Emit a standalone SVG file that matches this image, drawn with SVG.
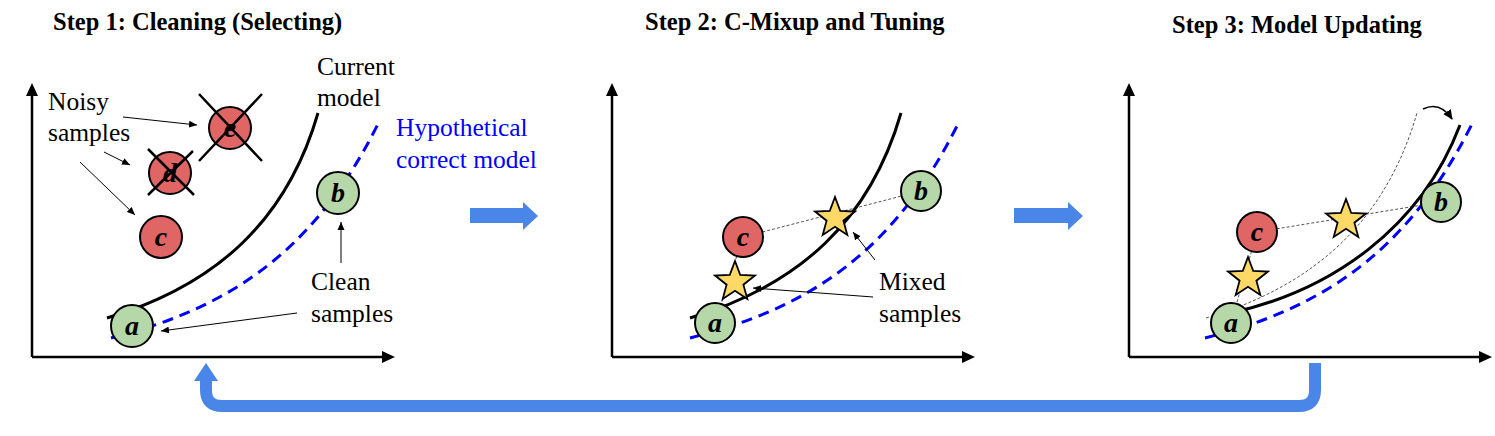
<svg xmlns="http://www.w3.org/2000/svg" width="1495" height="436" viewBox="0 0 1495 436">
<style>
text{font-family:"Liberation Serif","Times New Roman","DejaVu Serif",serif;fill:#000}
.title{font-size:24.5px;font-weight:bold}
.lbl{font-family:"Liberation Serif","DejaVu Serif",serif;font-size:25.5px;font-weight:normal;font-style:normal}
.blue{fill:#0000ff}
.let{font-size:28px;font-weight:bold;font-style:italic;text-anchor:middle}
.axis{stroke:#000;stroke-width:2.5;fill:none}
.red{fill:#e06666;stroke:#000;stroke-width:2}
.green{fill:#b6d7a8;stroke:#000;stroke-width:2}
.model{stroke:#000;stroke-width:3;fill:none}
.hyp{stroke:#0000ff;stroke-width:3;fill:none;stroke-dasharray:11 7}
.thin{stroke:#000;stroke-width:1;fill:none;marker-end:url(#ah)}
.dash{stroke:#555;stroke-width:1;fill:none;stroke-dasharray:3 2}
.xmark{stroke:#000;stroke-width:2.5}
.star{fill:#ffd966;stroke:#000;stroke-width:1.8;stroke-linejoin:miter}
.barrow{fill:#4a86e8}
</style>
<defs>
<marker id="ah" markerWidth="8" markerHeight="8" refX="8" refY="4" orient="auto" markerUnits="userSpaceOnUse"><path d="M0,0.5 L8,4 L0,7.5 z" fill="#000"/></marker>
<marker id="ah2" markerWidth="10" markerHeight="10" refX="9" refY="5" orient="auto" markerUnits="userSpaceOnUse"><path d="M0,0.5 L10,5 L0,9.5 z" fill="#000"/></marker>
<polygon id="starshape" points="0,-21 5.2,-7.2 20,-6.5 8.4,2.7 12.3,17 0,8.8 -12.3,17 -8.4,2.7 -20,-6.5 -5.2,-7.2"/>
</defs>

<!-- Titles -->
<g id="titles">
<text class="title" x="53" y="30">Step 1: Cleaning (Selecting)</text>
<text class="title" x="645" y="30">Step 2: C-Mixup and Tuning</text>
<text class="title" x="1172" y="33">Step 3: Model Updating</text>
</g>

<!-- Panel 1 -->
<g id="panel1-axes">
<path class="axis" d="M32,357 V95 M32,357 H383"/>
<polygon points="32,83 26,96 38,96"/>
<polygon points="395,357 382,351 382,363"/>
</g>
<g id="panel1-curves">
<path class="model" d="M107,318 C217,285 287,220 318,113"/>
<path class="hyp" d="M111,338 C220,310 310,260 378,124"/>
</g>
<g id="node-p1-e"><circle class="red" cx="230" cy="128" r="21"/><text class="let" x="230" y="137">e</text><path class="xmark" d="M199,94 L262,161 M262,94 L199,161"/></g>
<g id="node-p1-d"><circle class="red" cx="170" cy="173" r="21"/><text class="let" x="170" y="182">d</text><path class="xmark" d="M148,149 L194,195 M193,151 L148,195"/></g>
<g id="node-p1-c"><circle class="red" cx="161" cy="237" r="21"/><text class="let" x="161" y="246">c</text></g>
<g id="node-p1-b"><circle class="green" cx="338" cy="193" r="21"/><text class="let" x="338" y="202">b</text></g>
<g id="node-p1-a"><circle class="green" cx="132" cy="326" r="21"/><text class="let" x="132" y="335">a</text></g>
<g id="p1-labels">
<text class="lbl" x="317" y="75">Current</text>
<text class="lbl" x="317" y="106">model</text>
<text class="lbl blue" x="396" y="136">Hypothetical</text>
<text class="lbl blue" x="396" y="168">correct model</text>
<text class="lbl" x="48" y="110">Noisy</text>
<text class="lbl" x="48" y="141">samples</text>
<text class="lbl" x="311" y="290">Clean</text>
<text class="lbl" x="311" y="322">samples</text>
</g>

<!-- Panel 2 -->
<g id="panel2-axes">
<path class="axis" d="M612,357 V95 M612,357 H963"/>
<polygon points="612,83 606,96 618,96"/>
<polygon points="975,357 962,351 962,363"/>
</g>
<g id="panel2-curves">
<path class="hyp" d="M690,338 C800,310 890,260 958,124"/>
<path class="dash" d="M743,237 L921,191 M743,237 L715,323"/>
<path class="model" d="M690,318 C800,285 870,220 901,113"/>
</g>
<g id="node-p2-c"><circle class="red" cx="743" cy="237" r="20"/><text class="let" x="743" y="246">c</text></g>
<g id="node-p2-b"><circle class="green" cx="921" cy="191" r="20"/><text class="let" x="921" y="200">b</text></g>
<g id="node-p2-a"><circle class="green" cx="715" cy="323" r="20"/><text class="let" x="715" y="332">a</text></g>
<g id="node-p2-star1"><use href="#starshape" class="star" x="835" y="218"/></g>
<g id="node-p2-star2"><use href="#starshape" class="star" x="735" y="282"/></g>
<g id="p2-labels">
<text class="lbl" x="879" y="290">Mixed</text>
<text class="lbl" x="879" y="322">samples</text>
</g>

<!-- Panel 3 -->
<g id="panel3-axes">
<path class="axis" d="M1129,357 V95 M1129,357 H1480"/>
<polygon points="1129,83 1123,96 1135,96"/>
<polygon points="1492,357 1479,351 1479,363"/>
</g>
<g id="panel3-curves">
<path class="hyp" d="M1205,338 C1314,310 1404,260 1472,124"/>
<path class="dash" d="M1206,318 C1316,285 1386,220 1417,113"/>
<path class="dash" d="M1257,232 L1441,202 M1257,232 L1231,323"/>
<path class="model" d="M1235,312 C1330,290 1420,230 1460,125"/>
</g>
<g id="node-p3-c"><circle class="red" cx="1257" cy="232" r="20"/><text class="let" x="1257" y="241">c</text></g>
<g id="node-p3-b"><circle class="green" cx="1441" cy="202" r="20"/><text class="let" x="1441" y="211">b</text></g>
<g id="node-p3-a"><circle class="green" cx="1231" cy="323" r="20"/><text class="let" x="1231" y="332">a</text></g>
<g id="node-p3-star1"><use href="#starshape" class="star" x="1346" y="220"/></g>
<g id="node-p3-star2"><use href="#starshape" class="star" x="1248" y="278"/></g>

<!-- Connectors -->
<g id="connectors">
<path class="thin" d="M123,117 L197,125"/>
<path class="thin" d="M104,152 L130,165"/>
<path class="thin" d="M80,162 L135,215"/>
<path class="thin" d="M341,263 L341,222"/>
<path class="thin" d="M297,313 L161,331"/>
<path class="thin" d="M875,260 L853,232"/>
<path class="thin" d="M873,297 L753,288"/>
<path d="M1423,109 Q1440,101 1452,119" stroke="#000" stroke-width="1.5" fill="none" marker-end="url(#ah2)"/>
<polygon class="barrow" points="470,208 523,208 523,202 538,216 523,230 523,223 470,223"/>
<polygon class="barrow" points="1014,208 1068,208 1068,202 1083,216 1068,230 1068,223 1014,223"/>
<path d="M1315,363 V390 Q1315,406 1299,406 H222 Q206,406 206,390 V379" stroke="#4a86e8" stroke-width="12" fill="none"/>
<polygon class="barrow" points="206,363 194,381 218,381"/>
</g>
</svg>
